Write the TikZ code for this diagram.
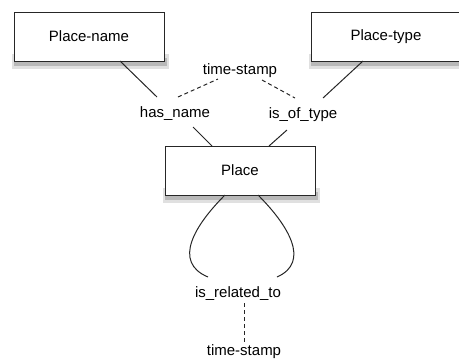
\documentclass[tikz,border=0pt]{standalone}
\usepackage{fontspec}
\setmainfont{Liberation Sans}
\usetikzlibrary{backgrounds}
\begin{document}
\begin{tikzpicture}[x=1pt,y=-1pt,
  entity/.style={draw=black!85,line width=1pt,fill=white,minimum width=150pt,minimum height=49pt,inner sep=0pt},
  lbl/.style={font=\fontsize{15}{18}\selectfont,inner sep=1pt},
  link/.style={line width=1pt,black!85},
  dlink/.style={line width=1pt,black!85,dash pattern=on 4pt off 3pt},
  shade1/.style={fill=black!12,draw=none},
  shade2/.style={fill=black!28,draw=none}]
\useasboundingbox (0,0) rectangle (459,360);
\node[entity,lbl] (pn) at (89,36.5) {Place-name};
\node[entity,lbl] (pt) at (386,36.5) {Place-type};
\node[entity,lbl] (pl) at (240,170.5) {Place};
\begin{scope}[on background layer]
  \foreach \n in {pn,pt,pl}{
    \fill[shade1] ([xshift=-2pt,yshift=8pt]\n.south west) rectangle ([xshift=4pt,yshift=-7pt]\n.south east);
    \fill[shade2] ([xshift=0pt,yshift=4pt]\n.south west) rectangle ([xshift=2pt,yshift=-4pt]\n.south east);
  }
\end{scope}
\node[lbl] (hn) at (175,114) {has\_name};
\node[lbl] (ot) at (303,115) {is\_of\_type};
\node[lbl] (ts1) at (240,71) {time-stamp};
\node[lbl] (rt) at (238,294) {is\_related\_to};
\node[lbl] (ts2) at (244,352) {time-stamp};
\coordinate (a1) at (120,61);  \coordinate (a2) at (157,97);
\coordinate (b1) at (193,127); \coordinate (b2) at (212,146);
\coordinate (c1) at (363,61);  \coordinate (c2) at (323,98);
\coordinate (d1) at (287,130); \coordinate (d2) at (269,146);
\coordinate (e1) at (178,97);  \coordinate (e2) at (218,79);
\coordinate (f1) at (262,80);  \coordinate (f2) at (295,98);
\coordinate (g1) at (225,195); \coordinate (g2) at (208,277);
\coordinate (h1) at (258,195); \coordinate (h2) at (277,277);
\coordinate (k1) at (244,303); \coordinate (k2) at (244,342);
\draw[link] (a1) -- (a2);
\draw[link] (b1) -- (b2);
\draw[link] (c1) -- (c2);
\draw[link] (d1) -- (d2);
\draw[dlink] (e1) -- (e2);
\draw[dlink] (f1) -- (f2);
\draw[link] (g1) .. controls (195,225) and (172,262) .. (g2);
\draw[link] (h1) .. controls (288,225) and (311,262) .. (h2);
\draw[dlink] (k1) -- (k2);
\end{tikzpicture}
\end{document}
